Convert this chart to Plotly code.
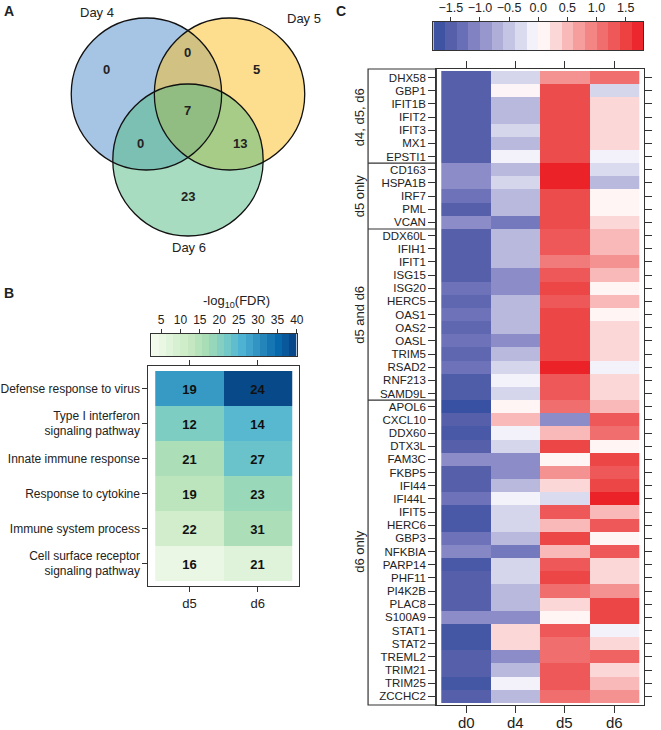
import plotly.graph_objects as go

W, H = 661, 730
def X(p): return p / W
def Y(p): return 1 - p / H

FONT = "Liberation Sans, Arial, sans-serif"
INK = "#222222"
LINE = "#333333"

# ---------------- Panel A : Venn ----------------
venn_sets = ["Day 4", "Day 5", "Day 6"]
venn_regions = ["4 only", "5 only", "6 only", "4&5", "4&6", "5&6", "4&5&6"]
venn_counts = [0, 5, 23, 0, 0, 13, 7]

# ---------------- Panel B : GO terms ----------------
go_terms = ["Defense response to virus",
            "Type I interferon<br>signaling pathway",
            "Innate immune response",
            "Response to cytokine",
            "Immune system process",
            "Cell surface receptor<br>signaling pathway"]
go_days = ["d5", "d6"]
go_fdr_d5 = [29, 21, 16, 14, 10.5, 5]
go_fdr_d6 = [39, 25, 23, 18, 16, 7.5]
go_count_d5 = [19, 12, 21, 19, 22, 16]
go_count_d6 = [24, 14, 27, 23, 31, 21]
fdr_ticks = [5, 10, 15, 20, 25, 30, 35, 40]

# ---------------- Panel C : expression heatmap ----------------
genes = ["DHX58", "GBP1", "IFIT1B", "IFIT2", "IFIT3", "MX1", "EPSTI1",
         "CD163", "HSPA1B", "IRF7", "PML", "VCAN",
         "DDX60L", "IFIH1", "IFIT1", "ISG15", "ISG20", "HERC5", "OAS1", "OAS2",
         "OASL", "TRIM5", "RSAD2", "RNF213", "SAMD9L",
         "APOL6", "CXCL10", "DDX60", "DTX3L", "FAM3C", "FKBP5", "IFI44", "IFI44L",
         "IFIT5", "HERC6", "GBP3", "NFKBIA", "PARP14", "PHF11", "PI4K2B", "PLAC8",
         "S100A9", "STAT1", "STAT2", "TREML2", "TRIM21", "TRIM25", "ZCCHC2"]
gene_groups = ["d4, d5, d6", "d5 only", "d5 and d6", "d6 only"]
group_sizes = [7, 5, 13, 23]
time_points = ["d0", "d4", "d5", "d6"]
expr_d0 = [-1.5, -1.5, -1.5, -1.5, -1.5, -1.5, -1.5,
           -1.0, -1.0, -1.25, -1.5, -1.0,
           -1.5, -1.5, -1.5, -1.5, -1.25, -1.4, -1.25, -1.4, -1.25, -1.4, -1.25, -1.55, -1.55,
           -1.75, -1.5, -1.6, -1.5, -1.0, -1.5, -1.5, -1.25, -1.6, -1.6, -1.25, -1.05, -1.6,
           -1.5, -1.5, -1.5, -1.0, -1.65, -1.65, -1.5, -1.5, -1.65, -1.5]
expr_d4 = [-0.35, 0.05, -0.6, -0.6, -0.35, -0.6, -0.1,
           -0.6, -0.35, -0.6, -0.6, -1.2,
           -0.6, -0.6, -0.6, -1.0, -1.0, -0.6, -0.6, -0.6, -1.0, -0.6, -0.35, -0.1, -0.35,
           0.1, 0.5, -0.1, -0.35, -1.0, -1.0, -0.6, -0.1, -0.35, -0.35, -0.6, -1.2, -0.35,
           -0.35, -0.6, -0.6, -1.0, 0.3, 0.3, -1.0, -0.6, -0.1, -0.6]
expr_d5 = [0.8, 1.4, 1.4, 1.4, 1.4, 1.4, 1.4,
           1.75, 1.75, 1.4, 1.4, 1.4,
           1.3, 1.3, 1.0, 1.3, 1.45, 1.3, 1.45, 1.45, 1.45, 1.45, 1.75, 1.3, 1.3,
           1.1, -1.0, 0.5, 1.45, 0.1, 0.8, 0.3, -0.3, 1.3, 0.5, 1.45, 0.5, 1.3,
           1.45, 1.1, 0.3, 0.1, 1.3, 1.1, 1.1, 1.3, 1.3, 1.1]
expr_d6 = [1.1, -0.35, 0.3, 0.3, 0.3, 0.3, -0.1,
           -0.3, -0.6, 0.1, 0.1, 0.3,
           0.5, 0.5, 0.8, 0.5, 0.1, 0.5, 0.1, 0.3, 0.3, 0.3, -0.1, 0.3, 0.3,
           0.5, 1.3, 1.1, 0.1, 1.45, 1.3, 1.45, 1.75, 0.5, 1.3, 0.1, 1.3, 0.3,
           0.3, 0.8, 1.45, 1.45, -0.1, 0.3, 1.2, 0.3, 0.5, 0.8]
expr_ticks = [-1.5, -1.0, -0.5, 0.0, 0.5, 1.0, 1.5]

# ---------------- colour scales ----------------
rb_scale = [[0.0, "rgb(50,78,160)"], [0.083, "rgb(85,95,170)"], [0.153, "rgb(110,115,185)"],
            [0.222, "rgb(140,140,200)"], [0.333, "rgb(185,185,222)"], [0.403, "rgb(213,213,236)"],
            [0.472, "rgb(243,242,250)"], [0.528, "rgb(255,245,245)"], [0.583, "rgb(252,215,215)"],
            [0.639, "rgb(249,185,185)"], [0.722, "rgb(244,145,145)"], [0.806, "rgb(240,110,110)"],
            [0.861, "rgb(238,88,88)"], [0.903, "rgb(236,70,70)"], [1.0, "rgb(236,28,36)"]]
EMIN, EMAX = -1.8, 1.8
FMIN, FMAX = 2.5, 40.0

fig = go.Figure()

# ---- Panel B heatmap ----
b_z = [[go_fdr_d5[i], go_fdr_d6[i]] for i in range(len(go_terms))]
b_txt = [[go_count_d5[i], go_count_d6[i]] for i in range(len(go_terms))]
fig.add_trace(go.Heatmap(z=b_z, x=[0, 1], y=list(range(len(go_terms))), text=b_txt,
                         texttemplate="<b>%{text}</b>",
                         textfont=dict(size=13, color="#111", family=FONT),
                         colorscale="GnBu", zmin=FMIN, zmax=FMAX, showscale=False,
                         hoverinfo="skip", xaxis="x", yaxis="y"))

# ---- Panel C heatmap ----
c_z = [[expr_d0[i], expr_d4[i], expr_d5[i], expr_d6[i]] for i in range(len(genes))]
fig.add_trace(go.Heatmap(z=c_z, x=[0, 1, 2, 3], y=list(range(len(genes))),
                         colorscale=rb_scale, zmin=EMIN, zmax=EMAX, showscale=False,
                         hoverinfo="skip", xaxis="x2", yaxis="y2"))

# ---- Panel C colour key (banded) ----
c_band = 0.2
c_centers = [EMIN + c_band * (k + 0.5) for k in range(int(round((EMAX - EMIN) / c_band)))]
fig.add_trace(go.Heatmap(z=[c_centers], x=c_centers, y=[0], colorscale=rb_scale,
                         zmin=EMIN, zmax=EMAX, showscale=False, hoverinfo="skip",
                         xaxis="x3", yaxis="y3"))

# ---- Panel B colour key (banded) ----
f_band = (FMAX - FMIN) / 20
f_centers = [FMIN + f_band * (k + 0.5) for k in range(20)]
fig.add_trace(go.Heatmap(z=[f_centers], x=f_centers, y=[0], colorscale="GnBu",
                         zmin=FMIN, zmax=FMAX, showscale=False, hoverinfo="skip",
                         xaxis="x4", yaxis="y4"))

axis_common = dict(showgrid=False, zeroline=False, linecolor=LINE, linewidth=1.2,
                   tickcolor=LINE, tickwidth=1.2)
def tf(size):
    return dict(family=FONT, size=size, color=INK)

nB = len(go_terms)
nG = len(genes)
b_right_ticks = [0.13, 1.39, 2.64, 3.87, 5.1]

layout = dict(
    width=W, height=H, autosize=False,
    margin=dict(l=0, r=0, t=0, b=0),
    paper_bgcolor="white", plot_bgcolor="white",
    font=dict(family=FONT, color=INK),
    showlegend=False,
    # Panel B heatmap
    xaxis=dict(domain=[X(150), X(302)], anchor="y", range=[-0.6, 1.6],
               tickvals=[0, 1], ticktext=go_days, ticks="outside", ticklen=5,
               showline=True, mirror="ticks", tickfont=tf(13), **axis_common),
    yaxis=dict(domain=[Y(586), Y(366)], anchor="x", range=[nB - 0.357, -0.643],
               tickvals=list(range(nB)), ticktext=go_terms, ticks="outside", ticklen=5,
               showline=True, mirror=True, tickfont=tf(12), **axis_common),
    yaxis5=dict(overlaying="y", side="right", anchor="x", range=[nB - 0.357, -0.643],
                tickvals=b_right_ticks, showticklabels=False, ticks="outside", ticklen=6,
                showline=False, showgrid=False, zeroline=False, tickcolor=LINE, tickwidth=1.2),
    # Panel C heatmap
    xaxis2=dict(domain=[X(441), X(651)], anchor="y2", range=[-0.6, 3.6],
                tickvals=[0, 1, 2, 3], showticklabels=False, ticks="outside", ticklen=7,
                showline=True, mirror="ticks", **axis_common),
    yaxis2=dict(domain=[Y(705), Y(69)], anchor="x2", range=[nG - 0.35, -0.65],
                tickvals=list(range(nG)), ticktext=genes, ticks="outside", ticklen=7,
                showline=True, mirror="ticks", tickfont=tf(11.5), **axis_common),
    # Panel C colour key
    xaxis3=dict(domain=[X(438), X(650)], anchor="y3", range=[EMIN, EMAX], side="top",
                tickvals=expr_ticks, tickformat=".1f", ticks="outside", ticklen=4,
                showline=True, mirror=True, tickfont=tf(12.5), **axis_common),
    yaxis3=dict(domain=[Y(50), Y(22)], anchor="x3", range=[-0.5, 0.5],
                showticklabels=False, ticks="", showline=True, mirror=True, **axis_common),
    # Panel B colour key
    xaxis4=dict(domain=[X(153), X(300)], anchor="y4", range=[FMIN, FMAX], side="top",
                tickvals=fdr_ticks, ticks="outside", ticklen=4,
                showline=True, mirror=True, tickfont=tf(12), **axis_common),
    yaxis4=dict(domain=[Y(356), Y(334)], anchor="x4", range=[-0.5, 0.5],
                showticklabels=False, ticks="", showline=True, mirror=True, **axis_common),
)
fig.update_layout(**layout)

shapes = []
annotations = []

def note(text, x, y, size, xref="paper", yref="paper", **kw):
    annotations.append(dict(text=text, x=x, y=y, xref=xref, yref=yref, showarrow=False,
                            xanchor="center", yanchor="middle",
                            font=dict(size=size, family=FONT, color=INK), **kw))

# ---- Venn circles ----
venn_geom = [(148, 94, 76, "rgba(77,137,201,0.5)"),
             (232, 94, 76, "rgba(251,189,31,0.5)"),
             (190, 160, 76, "rgba(81,185,129,0.5)")]
for cx, cy, r, col in venn_geom:
    shapes.append(dict(type="circle", xref="paper", yref="paper",
                       x0=X(cx - r), x1=X(cx + r), y0=Y(cy + r), y1=Y(cy - r),
                       fillcolor=col, line=dict(width=0)))
for cx, cy, r, col in venn_geom:
    shapes.append(dict(type="circle", xref="paper", yref="paper",
                       x0=X(cx - r), x1=X(cx + r), y0=Y(cy + r), y1=Y(cy - r),
                       fillcolor="rgba(0,0,0,0)", line=dict(width=1.3, color="#111")))
venn_label_pos = [(98, 13), (307, 18), (191, 248)]
for name, (px, py) in zip(venn_sets, venn_label_pos):
    note(name, X(px), Y(py), 13)
venn_count_pos = [(108, 69), (259, 69), (190, 196), (190, 53), (142, 143), (243, 143), (190, 111)]
for cnt, (px, py) in zip(venn_counts, venn_count_pos):
    note(f"<b>{cnt}</b>", X(px), Y(py), 13)

# ---- Panel labels ----
for lab, px, py in [("A", 9, 11), ("B", 9, 293), ("C", 345, 11)]:
    note(f"<b>{lab}</b>", X(px), Y(py), 14)

# ---- Panel B key title ----
note("-log<sub>10</sub>(FDR)", X(239), Y(301), 13)

# ---- Panel C column labels ----
for i, tp in enumerate(time_points):
    note(tp, i, Y(722), 15, xref="x2")

# ---- Panel C gene-group box ----
box_left, box_right = 372, 441
shapes.append(dict(type="rect", xref="paper", yref="paper",
                   x0=X(box_left), x1=X(box_right), y0=Y(705), y1=Y(69),
                   line=dict(width=1.2, color=LINE), fillcolor="rgba(0,0,0,0)"))
start = 0
for gname, gsize in zip(gene_groups, group_sizes):
    end = start + gsize
    if end < nG:
        shapes.append(dict(type="line", xref="paper", yref="y2",
                           x0=X(box_left), x1=X(box_right), y0=end - 0.5, y1=end - 0.5,
                           line=dict(width=1.2, color=LINE)))
    note(gname, X(363), (start + end - 1) / 2, 13, yref="y2", textangle=-90)
    start = end

fig.update_layout(shapes=shapes, annotations=annotations)
fig.write_html("out.html", config={"displayModeBar": False},
               post_script="document.body.style.margin='0';document.body.style.padding='0';")
